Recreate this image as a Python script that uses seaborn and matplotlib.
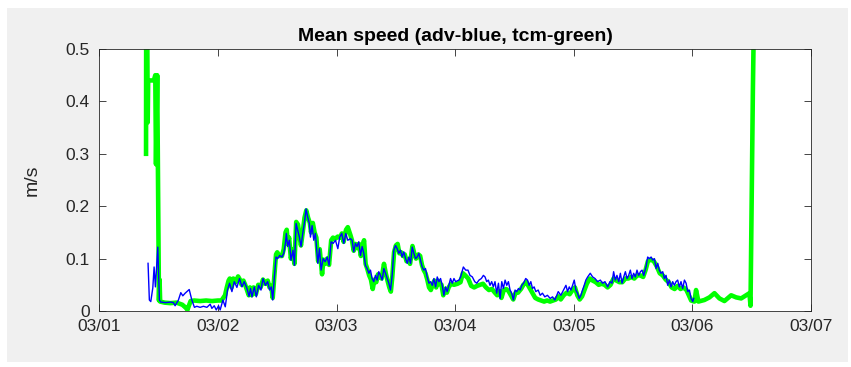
import numpy as np
import pandas as pd
import matplotlib
matplotlib.use("Agg")
import matplotlib.pyplot as plt
import seaborn as sns
from matplotlib.patches import Rectangle

# ---- data (days since 03/01 00:00, speed in m/s) ----
adv_day = [
    0.411, 0.422, 0.434, 0.451, 0.462, 0.473, 0.493, 0.507, 0.518, 0.560,
    0.600, 0.625, 0.639, 0.667, 0.687, 0.704, 0.724, 0.758, 0.780, 0.802,
    0.822, 0.850, 0.878, 0.907, 0.935, 0.949, 0.969, 0.986, 1.005, 1.019,
    1.042, 1.062, 1.081, 1.098, 1.118, 1.138, 1.160, 1.182, 1.203, 1.222,
    1.245, 1.262, 1.275, 1.287, 1.307, 1.324, 1.343, 1.363, 1.380, 1.400,
    1.419, 1.436, 1.450, 1.462, 1.476, 1.490, 1.504, 1.521, 1.540, 1.555,
    1.569, 1.577, 1.588, 1.602, 1.616, 1.633, 1.645, 1.659, 1.673, 1.687,
    1.701, 1.715, 1.732, 1.743, 1.757, 1.771, 1.780, 1.794, 1.808, 1.822,
    1.842, 1.856, 1.870, 1.887, 1.904, 1.921, 1.937, 1.954, 1.971, 1.991,
    2.011, 2.027, 2.044, 2.061, 2.078, 2.095, 2.117, 2.131, 2.145, 2.159,
    2.173, 2.187, 2.202, 2.216, 2.230, 2.244, 2.258, 2.272, 2.286, 2.300,
    2.314, 2.328, 2.342, 2.356, 2.370, 2.385, 2.399, 2.413, 2.427, 2.441,
    2.455, 2.469, 2.483, 2.497, 2.511, 2.525, 2.539, 2.553, 2.567, 2.582,
    2.596, 2.610, 2.624, 2.638, 2.652, 2.666, 2.680, 2.694, 2.708, 2.722,
    2.736, 2.750, 2.764, 2.779, 2.793, 2.807, 2.821, 2.835, 2.849, 2.863,
    2.877, 2.891, 2.905, 2.919, 2.933, 2.947, 2.961, 2.976, 2.990, 3.004,
    3.032, 3.046, 3.069, 3.089, 3.108, 3.125, 3.145, 3.165, 3.182, 3.201,
    3.221, 3.238, 3.252, 3.266, 3.280, 3.294, 3.308, 3.322, 3.336, 3.350,
    3.365, 3.379, 3.393, 3.407, 3.421, 3.435, 3.449, 3.463, 3.477, 3.491,
    3.505, 3.519, 3.534, 3.548, 3.562, 3.576, 3.595, 3.610, 3.624, 3.638,
    3.652, 3.666, 3.680, 3.700, 3.717, 3.736, 3.756, 3.778, 3.801, 3.821,
    3.840, 3.857, 3.869, 3.891, 3.914, 3.934, 3.948, 3.962, 3.976, 3.990,
    4.004, 4.018, 4.032, 4.046, 4.060, 4.074, 4.088, 4.102, 4.117, 4.139,
    4.159, 4.179, 4.201, 4.224, 4.243, 4.263, 4.286, 4.305, 4.322, 4.336,
    4.350, 4.364, 4.379, 4.393, 4.407, 4.421, 4.435, 4.449, 4.463, 4.477,
    4.491, 4.505, 4.519, 4.533, 4.547, 4.562, 4.576, 4.590, 4.609, 4.623,
    4.637, 4.652, 4.666, 4.680, 4.694, 4.708, 4.721, 4.735, 4.750, 4.764,
    4.778, 4.792, 4.806, 4.820, 4.834, 4.848, 4.862, 4.876, 4.890, 4.904,
    4.918, 4.933, 4.947, 4.961, 4.975, 4.989, 5.003, 5.011,
]
adv_speed = [
    0.091, 0.021, 0.018, 0.044, 0.084, 0.046, 0.122, 0.021, 0.017, 0.016,
    0.017, 0.016, 0.010, 0.021, 0.035, 0.029, 0.034, 0.041, 0.021, 0.007,
    0.009, 0.007, 0.009, 0.007, 0.013, 0.005, 0.010, 0.002, 0.010, 0.002,
    0.021, 0.008, 0.040, 0.053, 0.037, 0.056, 0.045, 0.062, 0.046, 0.056,
    0.043, 0.028, 0.043, 0.027, 0.046, 0.027, 0.049, 0.040, 0.062, 0.049,
    0.056, 0.040, 0.046, 0.021, 0.065, 0.103, 0.100, 0.106, 0.103, 0.110,
    0.129, 0.148, 0.123, 0.135, 0.097, 0.116, 0.087, 0.167, 0.154, 0.141,
    0.123, 0.148, 0.173, 0.195, 0.179, 0.167, 0.141, 0.163, 0.135, 0.148,
    0.091, 0.119, 0.078, 0.100, 0.094, 0.103, 0.087, 0.132, 0.129, 0.135,
    0.119, 0.141, 0.148, 0.129, 0.148, 0.135, 0.138, 0.135, 0.113, 0.129,
    0.123, 0.132, 0.106, 0.123, 0.110, 0.087, 0.081, 0.072, 0.078, 0.062,
    0.056, 0.068, 0.059, 0.075, 0.068, 0.059, 0.081, 0.072, 0.062, 0.053,
    0.040, 0.068, 0.116, 0.125, 0.119, 0.110, 0.116, 0.103, 0.113, 0.100,
    0.091, 0.103, 0.091, 0.122, 0.110, 0.100, 0.103, 0.110, 0.097, 0.084,
    0.078, 0.081, 0.065, 0.053, 0.056, 0.049, 0.062, 0.046, 0.065, 0.056,
    0.062, 0.049, 0.030, 0.046, 0.037, 0.049, 0.062, 0.053, 0.062, 0.056,
    0.059, 0.065, 0.084, 0.078, 0.078, 0.068, 0.065, 0.056, 0.053, 0.059,
    0.062, 0.068, 0.065, 0.056, 0.059, 0.049, 0.056, 0.046, 0.056, 0.034,
    0.053, 0.024, 0.056, 0.043, 0.059, 0.049, 0.056, 0.040, 0.034, 0.021,
    0.040, 0.037, 0.043, 0.040, 0.049, 0.053, 0.062, 0.059, 0.049, 0.056,
    0.043, 0.046, 0.037, 0.040, 0.030, 0.034, 0.027, 0.030, 0.024, 0.027,
    0.021, 0.030, 0.037, 0.030, 0.040, 0.049, 0.037, 0.046, 0.040, 0.049,
    0.059, 0.040, 0.034, 0.024, 0.030, 0.040, 0.049, 0.059, 0.065, 0.072,
    0.065, 0.062, 0.056, 0.059, 0.053, 0.056, 0.046, 0.056, 0.053, 0.075,
    0.059, 0.068, 0.056, 0.072, 0.053, 0.065, 0.075, 0.062, 0.068, 0.078,
    0.062, 0.072, 0.065, 0.078, 0.068, 0.075, 0.078, 0.068, 0.084, 0.103,
    0.100, 0.103, 0.097, 0.100, 0.081, 0.091, 0.078, 0.072, 0.075, 0.062,
    0.068, 0.049, 0.059, 0.046, 0.056, 0.049, 0.056, 0.059, 0.046, 0.056,
    0.043, 0.059, 0.053, 0.037, 0.040, 0.024, 0.018, 0.024,
]

tcm_day = [
    0.394, 0.395, 0.405, 0.408, 0.412, 0.460, 0.472, 0.478, 0.488, 0.503,
    0.508, 0.513, 0.550, 0.600, 0.650, 0.700, 0.730, 0.743, 0.755, 0.770,
    0.800, 0.850, 0.900, 0.950, 1.000, 1.030, 1.045, 1.060, 1.075, 1.090,
    1.100, 1.115, 1.130, 1.150, 1.170, 1.185, 1.200, 1.215, 1.230, 1.245,
    1.260, 1.270, 1.285, 1.300, 1.320, 1.340, 1.360, 1.380, 1.400, 1.420,
    1.435, 1.450, 1.462, 1.476, 1.490, 1.500, 1.520, 1.540, 1.555, 1.570,
    1.580, 1.590, 1.600, 1.615, 1.630, 1.645, 1.660, 1.675, 1.690, 1.700,
    1.715, 1.730, 1.745, 1.760, 1.775, 1.785, 1.800, 1.815, 1.830, 1.845,
    1.858, 1.878, 1.890, 1.905, 1.920, 1.937, 1.955, 1.970, 1.990, 2.010,
    2.030, 2.045, 2.060, 2.080, 2.095, 2.117, 2.130, 2.145, 2.160, 2.175,
    2.190, 2.205, 2.220, 2.232, 2.245, 2.260, 2.275, 2.290, 2.305, 2.320,
    2.335, 2.350, 2.365, 2.380, 2.400, 2.415, 2.430, 2.445, 2.458, 2.470,
    2.485, 2.500, 2.515, 2.530, 2.545, 2.560, 2.575, 2.590, 2.605, 2.620,
    2.640, 2.655, 2.670, 2.690, 2.705, 2.720, 2.735, 2.750, 2.765, 2.780,
    2.795, 2.810, 2.825, 2.840, 2.855, 2.870, 2.885, 2.900, 2.915, 2.930,
    2.945, 2.965, 2.990, 3.020, 3.045, 3.065, 3.085, 3.110, 3.135, 3.160,
    3.185, 3.210, 3.235, 3.260, 3.285, 3.310, 3.335, 3.355, 3.375, 3.390,
    3.410, 3.430, 3.450, 3.470, 3.490, 3.510, 3.530, 3.555, 3.575, 3.600,
    3.625, 3.650, 3.675, 3.700, 3.725, 3.750, 3.775, 3.800, 3.825, 3.850,
    3.870, 3.890, 3.915, 3.940, 3.965, 3.990, 4.010, 4.030, 4.050, 4.070,
    4.090, 4.110, 4.135, 4.160, 4.185, 4.210, 4.235, 4.260, 4.285, 4.310,
    4.335, 4.360, 4.385, 4.410, 4.435, 4.460, 4.485, 4.510, 4.535, 4.560,
    4.585, 4.605, 4.625, 4.650, 4.675, 4.700, 4.725, 4.750, 4.775, 4.800,
    4.825, 4.850, 4.875, 4.900, 4.925, 4.950, 4.970, 4.990, 5.017, 5.031,
    5.051, 5.101, 5.144, 5.186, 5.228, 5.270, 5.327, 5.369, 5.411, 5.454,
    5.481, 5.490, 5.510, 5.515,
]
tcm_speed = [
    0.300, 0.500, 0.500, 0.360, 0.440, 0.440, 0.450, 0.280, 0.450, 0.020,
    0.060, 0.018, 0.016, 0.015, 0.016, 0.012, 0.006, 0.002, 0.010, 0.019,
    0.020, 0.019, 0.020, 0.019, 0.020, 0.020, 0.025, 0.030, 0.045, 0.058,
    0.062, 0.045, 0.062, 0.055, 0.066, 0.060, 0.050, 0.058, 0.050, 0.040,
    0.030, 0.045, 0.030, 0.045, 0.032, 0.050, 0.045, 0.060, 0.052, 0.058,
    0.045, 0.048, 0.025, 0.068, 0.108, 0.112, 0.105, 0.105, 0.118, 0.150,
    0.155, 0.128, 0.140, 0.100, 0.118, 0.090, 0.170, 0.165, 0.140, 0.125,
    0.150, 0.178, 0.192, 0.178, 0.168, 0.150, 0.168, 0.150, 0.140, 0.095,
    0.118, 0.070, 0.098, 0.090, 0.100, 0.088, 0.135, 0.140, 0.138, 0.142,
    0.140, 0.148, 0.132, 0.155, 0.160, 0.145, 0.135, 0.115, 0.128, 0.120,
    0.128, 0.105, 0.125, 0.135, 0.090, 0.080, 0.068, 0.060, 0.042, 0.060,
    0.055, 0.070, 0.065, 0.062, 0.090, 0.072, 0.058, 0.045, 0.037, 0.065,
    0.112, 0.125, 0.128, 0.110, 0.112, 0.105, 0.108, 0.095, 0.098, 0.090,
    0.124, 0.110, 0.100, 0.108, 0.105, 0.088, 0.078, 0.072, 0.060, 0.045,
    0.040, 0.050, 0.058, 0.045, 0.058, 0.052, 0.050, 0.030, 0.042, 0.035,
    0.045, 0.052, 0.050, 0.052, 0.055, 0.072, 0.068, 0.062, 0.048, 0.045,
    0.048, 0.050, 0.052, 0.045, 0.040, 0.042, 0.035, 0.030, 0.038, 0.025,
    0.040, 0.042, 0.038, 0.030, 0.022, 0.035, 0.035, 0.042, 0.050, 0.055,
    0.045, 0.035, 0.025, 0.022, 0.020, 0.018, 0.020, 0.018, 0.020, 0.022,
    0.028, 0.022, 0.030, 0.035, 0.032, 0.040, 0.045, 0.030, 0.022, 0.028,
    0.040, 0.052, 0.062, 0.058, 0.055, 0.050, 0.052, 0.050, 0.045, 0.050,
    0.062, 0.058, 0.055, 0.055, 0.062, 0.062, 0.065, 0.062, 0.068, 0.068,
    0.065, 0.078, 0.095, 0.098, 0.095, 0.085, 0.072, 0.068, 0.060, 0.055,
    0.045, 0.042, 0.048, 0.042, 0.045, 0.040, 0.030, 0.020, 0.018, 0.040,
    0.018, 0.021, 0.026, 0.034, 0.024, 0.019, 0.030, 0.026, 0.024, 0.030,
    0.034, 0.010, 0.420, 0.500,
]

x_tick_labels = ["03/01", "03/02", "03/03", "03/04", "03/05", "03/06", "03/07"]
y_ticks = [0, 0.1, 0.2, 0.3, 0.4, 0.5]
y_tick_labels = ["0", "0.1", "0.2", "0.3", "0.4", "0.5"]
title = "Mean speed (adv-blue, tcm-green)"
y_label = "m/s"

# ---- build ----
start = pd.Timestamp("2016-03-01")
adv_time = start + pd.to_timedelta(np.array(adv_day), unit="D")
tcm_time = start + pd.to_timedelta(np.array(tcm_day), unit="D")
adv_df = pd.DataFrame({"time": adv_time, "speed": adv_speed})
tcm_df = pd.DataFrame({"time": tcm_time, "speed": tcm_speed})

plt.rcParams["font.family"] = ["Liberation Sans", "DejaVu Sans"]

W, H = 851, 367
fig = plt.figure(figsize=(W / 100, H / 100), dpi=100, facecolor="white")
bg = Rectangle((7 / W, 5 / H), (848 - 7) / W, (359 - 5) / H,
               transform=fig.transFigure, facecolor="#f0f0f0",
               edgecolor="none", zorder=-10)
fig.patches.append(bg)
ax = fig.add_axes([99.3 / W, 1 - 311 / H, (811 - 99.3) / W, (311 - 49) / H])
ax.set_zorder(5)
ax.set_facecolor("white")

sns.lineplot(data=tcm_df, x="time", y="speed", ax=ax, color="#00ff00",
             linewidth=3.3, estimator=None, sort=False)
sns.lineplot(data=adv_df, x="time", y="speed", ax=ax, color="#0000ff",
             linewidth=1.0, estimator=None, sort=False)

xt = pd.date_range(start, periods=len(x_tick_labels), freq="D")
ax.set_xlim(xt[0], xt[-1])
ax.set_xticks(xt)
ax.set_xticklabels(x_tick_labels)
ax.set_ylim(0, 0.5)
ax.set_yticks(y_ticks)
ax.set_yticklabels(y_tick_labels)

ax.tick_params(direction="in", top=True, right=True, length=5, width=0.6,
               colors="#262626", labelsize=12.5)
ax.tick_params(axis="x", pad=6)
ax.tick_params(axis="y", pad=7)
for s in ax.spines.values():
    s.set_color("#262626")
    s.set_linewidth(0.6)

ax.set_xlabel("")
ax.set_ylabel(y_label, fontsize=14, color="#262626")
ax.yaxis.set_label_coords(-0.083, 0.5)
ax.set_title(title, fontsize=14, fontweight="bold", color="black", pad=6)

fig.savefig("out.png", dpi=100, facecolor=fig.get_facecolor())
